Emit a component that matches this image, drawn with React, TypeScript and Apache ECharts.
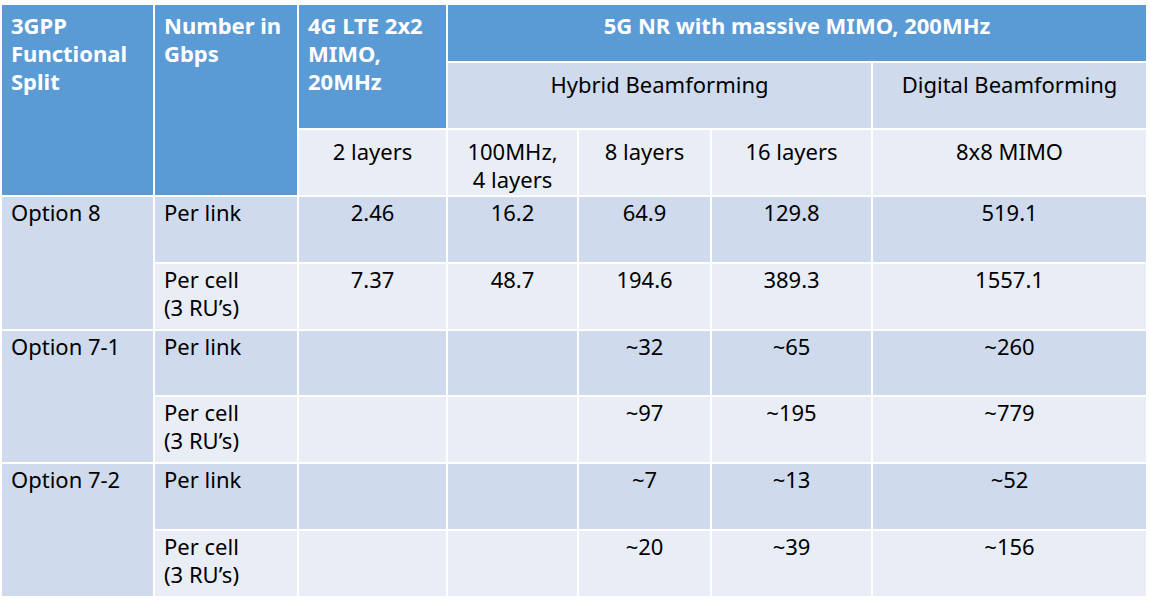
import React, { useEffect, useRef } from "react";
import * as echarts from "echarts";

// ---------- data ----------
const splitTitle = "3GPP\nFunctional\nSplit";
const numberTitle = "Number in\nGbps";
const lteTitle = "4G LTE 2x2\nMIMO,\n20MHz";
const nrTitle = "5G NR with massive MIMO, 200MHz";
const beamformingGroups = ["Hybrid Beamforming", "Digital Beamforming"];
const configurations = ["2 layers", "100MHz,\n4 layers", "8 layers", "16 layers", "8x8 MIMO"];
const splitOptions = ["Option 8", "Option 7-1", "Option 7-2"];
const metrics = ["Per link", "Per cell\n(3 RU’s)"];
const lte2Layers = ["2.46", "7.37", "", "", "", ""];
const nr100MHz4Layers = ["16.2", "48.7", "", "", "", ""];
const nr8Layers = ["64.9", "194.6", "~32", "~97", "~7", "~20"];
const nr16Layers = ["129.8", "389.3", "~65", "~195", "~13", "~39"];
const nr8x8Mimo = ["519.1", "1557.1", "~260", "~779", "~52", "~156"];

// ---------- layout / style ----------
const colEdges = [1, 154, 298, 447, 578, 711, 872, 1147];
const rowEdges = [4, 62, 129, 196, 263, 330, 396, 463, 530, 597];
const BLUE = "#5B9BD5";
const DARK = "#CFDAED";
const LIGHT = "#E9EDF6";
const FONT = "'Malgun Gothic', 'Noto Sans', sans-serif";

type Cell = {
  c0: number; c1: number; r0: number; r1: number;
  text: string; fill: string; color: string; bold: boolean;
  align: "left" | "center"; dy: number;
};

function buildCells(): Cell[] {
  const cells: Cell[] = [];
  const head = (c0: number, c1: number, r0: number, r1: number, text: string, align: "left" | "center") =>
    cells.push({ c0, c1, r0, r1, text, fill: BLUE, color: "#FFFFFF", bold: true, align, dy: 7 });
  head(0, 1, 0, 3, splitTitle, "left");
  head(1, 2, 0, 3, numberTitle, "left");
  head(2, 3, 0, 2, lteTitle, "left");
  head(3, 7, 0, 1, nrTitle, "center");
  cells.push({ c0: 3, c1: 6, r0: 1, r1: 2, text: beamformingGroups[0], fill: DARK, color: "#000", bold: false, align: "center", dy: 8 });
  cells.push({ c0: 6, c1: 7, r0: 1, r1: 2, text: beamformingGroups[1], fill: DARK, color: "#000", bold: false, align: "center", dy: 8 });
  configurations.forEach((t, i) =>
    cells.push({ c0: 2 + i, c1: 3 + i, r0: 2, r1: 3, text: t, fill: LIGHT, color: "#000", bold: false, align: "center", dy: 8 })
  );
  const cols = [lte2Layers, nr100MHz4Layers, nr8Layers, nr16Layers, nr8x8Mimo];
  splitOptions.forEach((opt, k) => {
    cells.push({ c0: 0, c1: 1, r0: 3 + 2 * k, r1: 5 + 2 * k, text: opt, fill: DARK, color: "#000", bold: false, align: "left", dy: 2 });
  });
  for (let i = 0; i < 6; i++) {
    const fill = i % 2 === 0 ? DARK : LIGHT;
    cells.push({ c0: 1, c1: 2, r0: 3 + i, r1: 4 + i, text: metrics[i % 2], fill, color: "#000", bold: false, align: "left", dy: 2 });
    cols.forEach((col, j) =>
      cells.push({ c0: 2 + j, c1: 3 + j, r0: 3 + i, r1: 4 + i, text: col[i], fill, color: "#000", bold: false, align: "center", dy: 2 })
    );
  }
  return cells;
}

const cells = buildCells();

export default function App() {
  const ref = useRef<HTMLDivElement>(null);
  useEffect(() => {
    if (!ref.current) return;
    const chart = echarts.init(ref.current, undefined, { renderer: "svg" });
    chart.setOption({
      animation: false,
      backgroundColor: "#FFFFFF",
      grid: { left: 0, right: 0, top: 0, bottom: 0 },
      xAxis: { type: "value", min: 0, max: 1151, show: false },
      yAxis: { type: "value", min: 0, max: 608, inverse: true, show: false },
      series: [
        {
          type: "custom",
          silent: true,
          clip: false,
          data: cells.map((c, i) => [colEdges[c.c0], colEdges[c.c1], rowEdges[c.r0], rowEdges[c.r1], i]),
          renderItem: (_params: any, api: any) => {
            const cell = cells[api.value(4)];
            const p0 = api.coord([api.value(0), api.value(2)]);
            const p1 = api.coord([api.value(1), api.value(3)]);
            const x = p0[0] + 1;
            const y = p0[1] + 1;
            const w = p1[0] - p0[0] - 2;
            const h = p1[1] - p0[1] - 2;
            const tx = cell.align === "left" ? p0[0] + 10 : (p0[0] + p1[0]) / 2;
            return {
              type: "group",
              children: [
                { type: "rect", shape: { x, y, width: w, height: h }, style: { fill: cell.fill } },
                {
                  type: "text",
                  x: tx,
                  y: p0[1] + cell.dy,
                  style: {
                    text: cell.text,
                    fill: cell.color,
                    fontSize: 22,
                    fontFamily: FONT,
                    fontWeight: cell.bold ? "bold" : "normal",
                    align: cell.align,
                    verticalAlign: "top",
                    lineHeight: 28,
                  },
                },
              ],
            };
          },
        },
      ],
    });
    return () => chart.dispose();
  }, []);
  return (
    <div
      ref={ref}
      style={{ position: "fixed", left: 0, top: 0, width: 1151, height: 608 }}
    />
  );
}
